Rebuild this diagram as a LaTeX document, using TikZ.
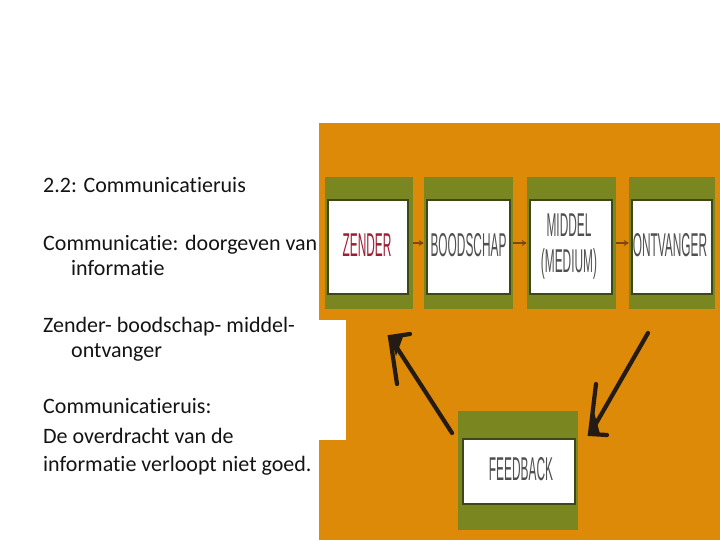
\documentclass[tikz,border=0pt]{standalone}
\usepackage{fontspec}
\setmainfont{Carlito}[Ligatures={NoCommon}]
\newfontfamily\boxfont[FakeStretch=0.36]{Liberation Sans}
\usetikzlibrary{arrows.meta}
\definecolor{bgorange}{RGB}{220,138,8}
\definecolor{boxgreen}{RGB}{122,134,32}
\definecolor{boxdark}{RGB}{62,72,22}
\definecolor{boxtext}{RGB}{80,80,80}
\definecolor{zendred}{RGB}{158,28,52}
\definecolor{arrowdark}{RGB}{36,28,20}
\definecolor{smallarrow}{RGB}{125,72,15}
\definecolor{bodytext}{RGB}{20,20,20}
\tikzset{
  greenbox/.style={fill=boxgreen, inner sep=0pt, minimum height=132pt},
  whitebox/.style={fill=white, draw=boxdark, line width=2.5pt, inner sep=0pt, minimum height=94pt},
  boxlabel/.style={text=boxtext, font=\boxfont\fontsize{33}{36}\selectfont, inner sep=0pt, align=center},
  smallarr/.style={draw=smallarrow, line width=1.8pt, -{Stealth[length=5pt,width=6pt]}},
  bigarr/.style={draw=arrowdark, line width=4.2pt, line cap=round, line join=miter},
  bodyline/.style={anchor=base west, inner sep=0pt, text=bodytext, font=\fontsize{22}{26}\selectfont}
}
\begin{document}
\begin{tikzpicture}[x=1pt,y=-1pt]
\useasboundingbox (0,0) rectangle (720,540);
\fill[white] (0,0) rectangle (720,540);
\fill[bgorange] (319,123) rectangle (720,540);
\fill[white] (318,320) rectangle (346,440);

% top row boxes
\node[greenbox, minimum width=88pt] (g1) at (369,243) {};
\node[greenbox, minimum width=89pt] (g2) at (468.5,243) {};
\node[greenbox, minimum width=89pt] (g3) at (571.5,243) {};
\node[greenbox, minimum width=86pt] (g4) at (672,243) {};
\node[whitebox, minimum width=80pt] (w1) at (368,247) {};
\node[whitebox, minimum width=83pt] (w2) at (468.5,247) {};
\node[whitebox, minimum width=82pt] (w3) at (571,247) {};
\node[whitebox, minimum width=80pt] (w4) at (672,247) {};
\node[boxlabel, text=zendred] (t1) at (367,245) {ZENDER};
\node[boxlabel] (t2) at (468.5,245) {BOODSCHAP};
\node[boxlabel] (t3) at (569,247) {MIDDEL\\(MEDIUM)};
\node[boxlabel] (t4) at (670,245) {ONTVANGER};

% feedback box
\node[greenbox, minimum width=120pt, minimum height=119pt] (gf) at (518,470.5) {};
\node[whitebox, minimum width=112pt, minimum height=65pt] (wf) at (519,471.5) {};
\node[boxlabel] (tf) at (521,469) {FEEDBACK};

% small arrows
\draw[smallarr] (g1.east) -- (g2.west);
\draw[smallarr] (g2.east) -- (g3.west);
\draw[smallarr] (g3.east) -- (g4.west);

% big arrows
\coordinate (ls) at (452,433);
\coordinate (lt) at (390,337);
\coordinate (lb1) at (410,334);
\coordinate (lb2) at (397,384);
\coordinate (rs) at (648,333);
\coordinate (rt) at (590,434);
\coordinate (rb1) at (596,384);
\coordinate (rb2) at (607,435);
\draw[bigarr] (ls) -- (lt);
\draw[bigarr] (lb1) -- (lt) -- (lb2);
\fill[arrowdark] (lt) -- (404,334) -- (396,356) -- cycle;
\draw[bigarr] (rs) -- (rt);
\draw[bigarr] (rb1) -- (rt) -- (rb2);
\fill[arrowdark] (rt) -- (594,412) -- (600,434) -- cycle;

% text
\node[bodyline] (l1) at (43,193) {2.2: Communicatieruis};
\node[bodyline] (l2) at (43,250) {Communicatie: doorgeven van};
\node[bodyline] (l3) at (71,275) {informatie};
\node[bodyline] (l4) at (43,332) {Zender- boodschap- middel-};
\node[bodyline] (l5) at (71,357) {ontvanger};
\node[bodyline] (l6) at (43,413) {Communicatieruis:};
\node[bodyline] (l7) at (43,443) {De overdracht van de};
\node[bodyline] (l8) at (43,471) {informatie verloopt niet goed.};
\end{tikzpicture}
\end{document}
